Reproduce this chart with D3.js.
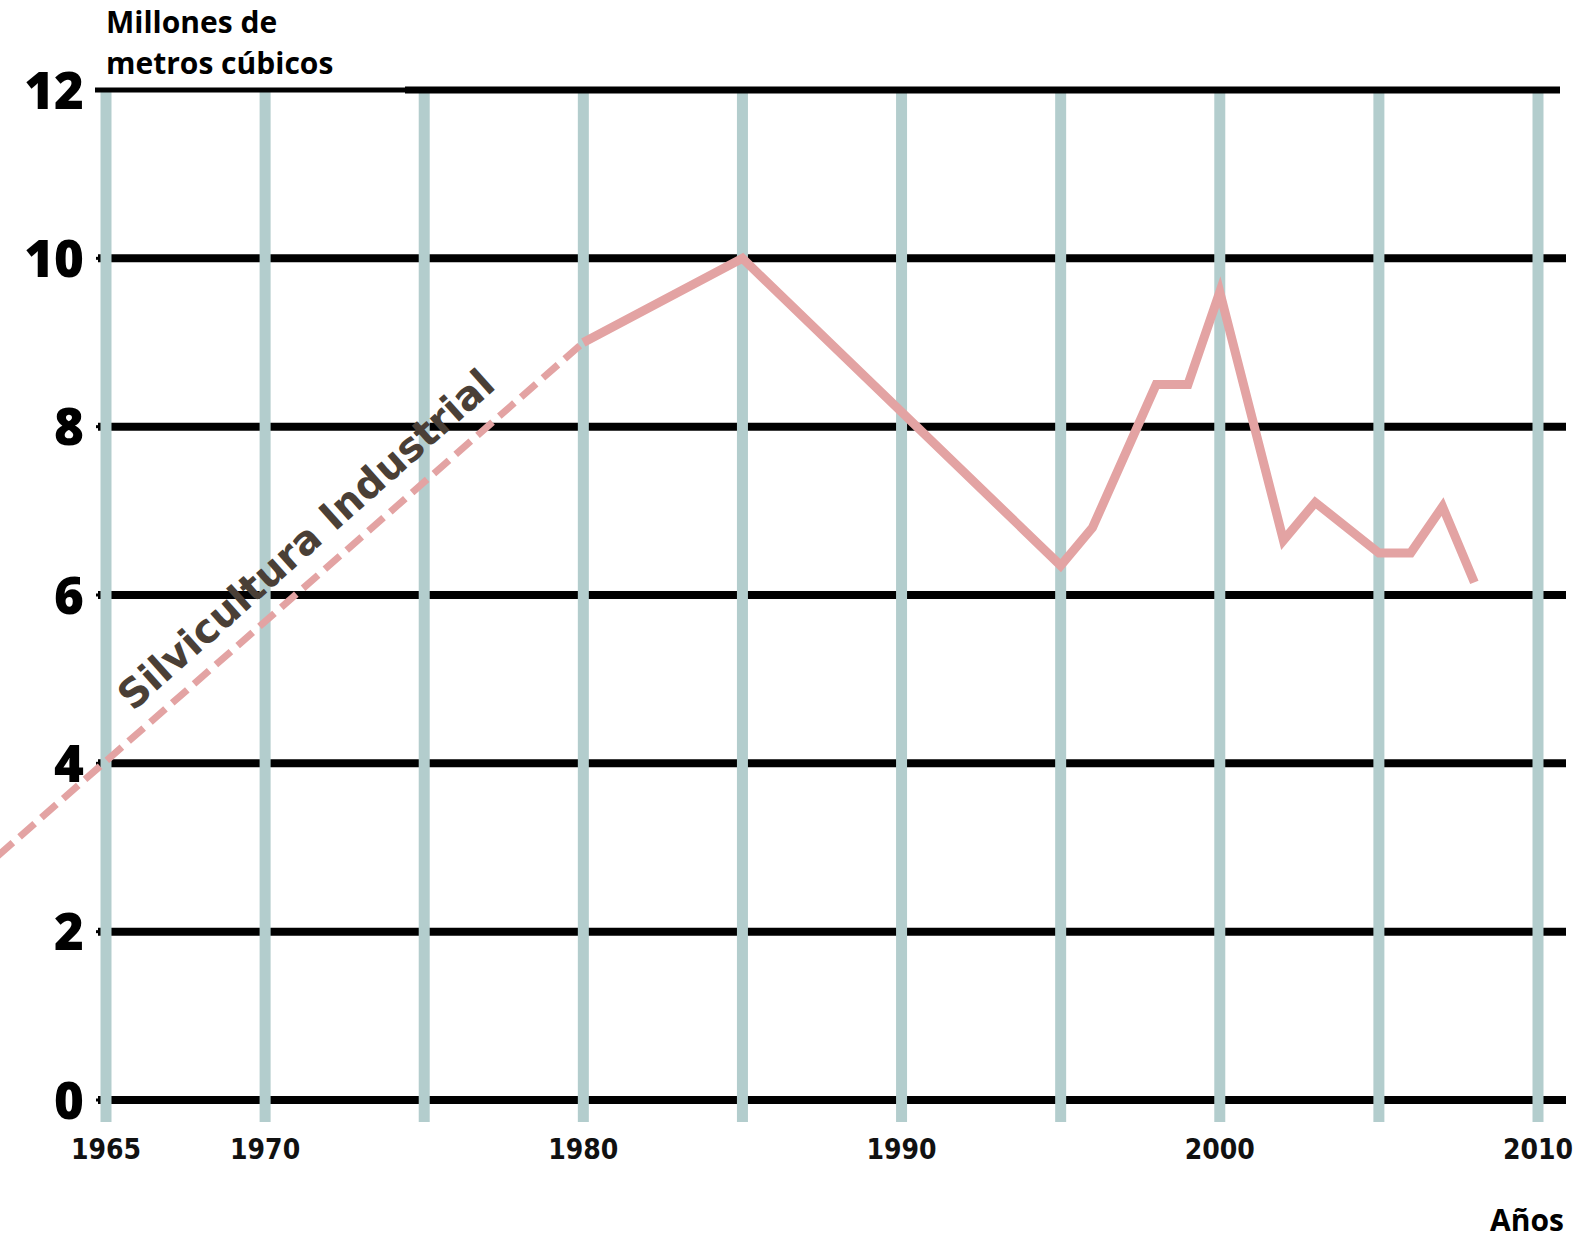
<!DOCTYPE html>
<html>
<head>
<meta charset="utf-8">
<script src="https://cdn.jsdelivr.net/npm/d3@7"></script>
<style>
  html, body { margin: 0; padding: 0; background: #fff; }
  svg { display: block; }
</style>
</head>
<body>
<svg id="chart" width="1575" height="1243"></svg>
<script>
// ---- data ----
const gridYears = [1965, 1970, 1975, 1980, 1985, 1990, 1995, 2000, 2005, 2010];
const labelYears = [1965, 1970, 1980, 1990, 2000, 2010];
const yTicks = [0, 2, 4, 6, 8, 10, 12];

// projected trend (dashed)
const trendYears = [1961.6, 1980];
const trendValues = [2.9, 9.0];

// observed series (solid)
const seriesYears = [1980, 1985, 1995, 1996, 1998, 1999, 2000, 2002, 2003, 2005, 2006, 2007, 2008];
const seriesValues = [9.0, 10.0, 6.35, 6.8, 8.5, 8.5, 9.6, 6.65, 7.1, 6.5, 6.5, 7.05, 6.15];

const yTitleLines = ["Millones de", "metros cúbicos"];
const xTitle = "Años";
const seriesLabel = "Silvicultura Industrial";

// ---- scales ----
const svg = d3.select("#chart");
const x = d3.scaleLinear().domain([1965, 2010]).range([106, 1538]);
const y = d3.scaleLinear().domain([0, 12]).range([1100, 90]);

const gridColor = "#b3cdcd";
const lineColor = "#e3a3a3";

// horizontal black gridlines (below verticals)
svg.append("g").selectAll("line")
  .data(yTicks.filter(d => d !== 12))
  .join("line")
  .attr("x1", 98).attr("x2", 1566)
  .attr("y1", d => y(d)).attr("y2", d => y(d))
  .attr("stroke", "#000").attr("stroke-width", 8);

// small tick dashes at left
svg.append("g").selectAll("line")
  .data(yTicks.filter(d => d !== 12))
  .join("line")
  .attr("x1", 96).attr("x2", 100)
  .attr("y1", d => y(d)).attr("y2", d => y(d))
  .attr("stroke", "#000").attr("stroke-width", 3);

// vertical gridlines
svg.append("g").selectAll("line")
  .data(gridYears)
  .join("line")
  .attr("x1", d => x(d)).attr("x2", d => x(d))
  .attr("y1", y(12)).attr("y2", 1122)
  .attr("stroke", gridColor).attr("stroke-width", 11);

// top line (12): thinner left part, thicker right part
svg.append("line")
  .attr("x1", 95).attr("x2", 405)
  .attr("y1", y(12)).attr("y2", y(12))
  .attr("stroke", "#000").attr("stroke-width", 5);
svg.append("line")
  .attr("x1", 405).attr("x2", 1560)
  .attr("y1", y(12)).attr("y2", y(12))
  .attr("stroke", "#000").attr("stroke-width", 7);

// y tick labels
svg.append("g").selectAll("text")
  .data(yTicks)
  .join("text")
  .attr("x", 84)
  .attr("y", d => y(d) + 5)
  .attr("text-anchor", "end")
  .attr("dominant-baseline", "middle")
  .attr("font-family", "'Open Sans', 'Liberation Sans', sans-serif")
  .attr("font-weight", 800)
  .attr("font-size", 51)
  .attr("fill", "#000")
  .text(d => d);

// x tick labels
svg.append("g").selectAll("text")
  .data(labelYears)
  .join("text")
  .attr("x", d => x(d))
  .attr("y", 1159)
  .attr("text-anchor", "middle")
  .attr("font-family", "'DejaVu Sans Condensed', 'DejaVu Sans', sans-serif")
  .attr("font-stretch", "condensed")
  .attr("font-weight", 700)
  .attr("font-size", 28)
  .attr("fill", "#111")
  .text(d => d);

// y title
svg.append("g").selectAll("text")
  .data(yTitleLines)
  .join("text")
  .attr("x", 106)
  .attr("y", (d, i) => 33 + i * 41)
  .attr("font-family", "'Open Sans', sans-serif")
  .attr("font-weight", 700)
  .attr("font-size", 30)
  .attr("fill", "#000")
  .text(d => d);

// x title
svg.append("text")
  .attr("x", 1564).attr("y", 1231)
  .attr("text-anchor", "end")
  .attr("font-family", "'Open Sans', sans-serif")
  .attr("font-weight", 700)
  .attr("font-size", 30)
  .attr("fill", "#000")
  .text(xTitle);

// lines
const line = d3.line().x(d => x(d[0])).y(d => y(d[1]));

svg.append("path")
  .datum(d3.zip(trendYears, trendValues))
  .attr("d", line)
  .attr("fill", "none")
  .attr("stroke", lineColor)
  .attr("stroke-width", 7)
  .attr("stroke-dasharray", "20,9");

svg.append("path")
  .datum(d3.zip(seriesYears, seriesValues))
  .attr("d", line)
  .attr("fill", "none")
  .attr("stroke", lineColor)
  .attr("stroke-width", 9)
  .attr("stroke-linejoin", "miter");

// series label
svg.append("text")
  .attr("transform", "translate(133,712) rotate(-41.7)")
  .attr("font-family", "'DejaVu Sans', sans-serif")
  .attr("font-weight", 700)
  .attr("font-size", 40)
  .attr("fill", "#4a3f36")
  .text(seriesLabel);
</script>
</body>
</html>
